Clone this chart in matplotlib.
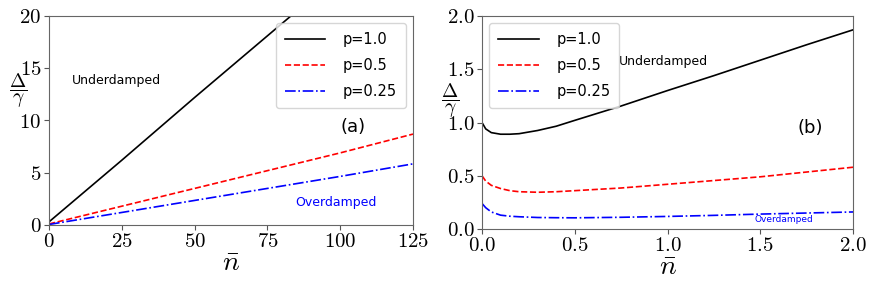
import numpy as np
import matplotlib.pyplot as plt

plt.rcParams['mathtext.fontset'] = 'cm'
plt.rcParams['font.family'] = 'serif'
plt.rcParams['font.serif'] = ['cmr10']
plt.rcParams['axes.formatter.use_mathtext'] = True

# panel (a): large n range
n_a = [0, 25, 50, 75, 100, 125]
a_p100 = [0.3, 6.2, 12.2, 18.1, 24.0, 30.0]
a_p050 = [0.1, 1.8, 3.5, 5.2, 6.9, 8.7]
a_p025 = [0.05, 1.2, 2.35, 3.5, 4.65, 5.85]

# panel (b): small n range
n_b = [0, 0.02, 0.05, 0.1, 0.15, 0.2, 0.3, 0.4, 0.5, 0.75, 1.0, 1.25, 1.5, 1.75, 2.0]
b_p100 = [1.0, 0.94, 0.905, 0.89, 0.89, 0.895, 0.925, 0.965, 1.02, 1.155, 1.30, 1.44, 1.585, 1.73, 1.87]
b_p050 = [0.5, 0.45, 0.41, 0.38, 0.36, 0.35, 0.345, 0.35, 0.36, 0.385, 0.42, 0.455, 0.49, 0.535, 0.58]
b_p025 = [0.24, 0.2, 0.16, 0.13, 0.12, 0.115, 0.108, 0.106, 0.105, 0.11, 0.118, 0.128, 0.14, 0.15, 0.16]

labels = ['p=1.0', 'p=0.5', 'p=0.25']
styles = [('black', '-'), ('red', '--'), ('blue', '-.')]
sans = 'DejaVu Sans'

fig = plt.figure(figsize=(8.72, 2.85), dpi=100)
ax1 = fig.add_axes([49 / 872, 1 - 225 / 285, 364 / 872, 209 / 285])
ax2 = fig.add_axes([482 / 872, 1 - 229 / 285, 371 / 872, 213 / 285])

for ax, x, series in [(ax1, n_a, [a_p100, a_p050, a_p025]),
                      (ax2, n_b, [b_p100, b_p050, b_p025])]:
    for y, lab, (c, ls) in zip(series, labels, styles):
        ax.plot(x, y, color=c, linestyle=ls, lw=1.2, label=lab)
    for s in ax.spines.values():
        s.set_color('#666666')
    ax.tick_params(direction='out', length=3.5, labelsize=15, color='#555555', pad=2)
    ax.set_xlabel(r'$\bar{n}$', fontsize=20, labelpad=0)
    ax.set_ylabel(r'$\dfrac{\Delta}{\gamma}$', fontsize=14, rotation=0,
                  va='center', ha='center')

ax1.yaxis.set_label_coords(-0.085, 0.64)
ax2.yaxis.set_label_coords(-0.086, 0.60)

ax1.set_xlim(0, 125)
ax1.set_ylim(0, 20)
ax1.set_xticks([0, 25, 50, 75, 100, 125])
ax1.set_yticks([0, 5, 10, 15, 20])
ax1.legend(loc='upper right', prop={'family': sans, 'size': 10.5}, handlelength=2.8,
           borderpad=0.6, labelspacing=0.75, handletextpad=1.2)
ax1.text(8, 13.8, 'Underdamped', family=sans, fontsize=9, va='center')
ax1.text(84.5, 2.2, 'Overdamped', family=sans, fontsize=9, va='center', color='blue')
ax1.text(100, 9.4, '(a)', family=sans, fontsize=13, va='center')

ax2.set_xlim(0, 2.0)
ax2.set_ylim(0, 2.0)
ax2.set_xticks([0, 0.5, 1.0, 1.5, 2.0])
ax2.set_yticks([0, 0.5, 1.0, 1.5, 2.0])
ax2.legend(loc='upper left', prop={'family': sans, 'size': 10.5}, handlelength=2.8,
           borderpad=0.6, labelspacing=0.75, handletextpad=1.2)
ax2.text(0.74, 1.57, 'Underdamped', family=sans, fontsize=9, va='center')
ax2.text(1.47, 0.085, 'Overdamped', family=sans, fontsize=6.5, va='center', color='blue')
ax2.text(1.70, 0.95, '(b)', family=sans, fontsize=13, va='center')

fig.savefig('out.png', dpi=100)
